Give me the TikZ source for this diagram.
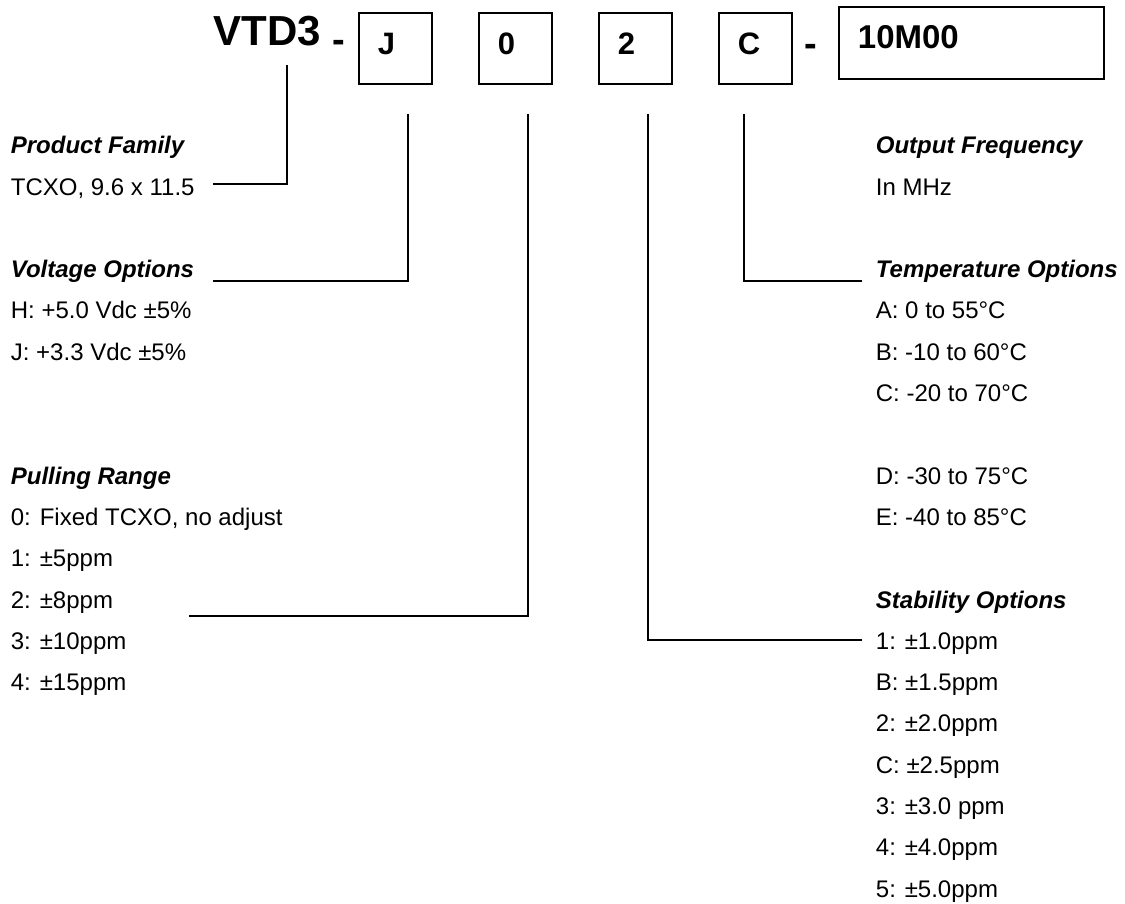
\documentclass[tikz,border=0pt]{standalone}
\usepackage{fontspec}
\setmainfont{Liberation Sans}
\usetikzlibrary{calc}
\newcommand{\bodyfont}{\fontsize{24}{29}\selectfont}
\newcommand{\headfont}{\fontsize{24}{29}\selectfont\bfseries\itshape}
\newcommand{\codefont}{\fontsize{31}{37}\selectfont\bfseries}
\newcommand{\dashfont}{\fontsize{38}{45}\selectfont\bfseries}
\newcommand{\partfont}{\fontsize{42}{50}\selectfont\bfseries}

\begin{document}
\begin{tikzpicture}[x=1pt,y=-1pt,line width=1.8pt,
    txt/.style={anchor=base west,inner sep=0pt,font=\bodyfont},
    head/.style={txt,font=\headfont},
    codebox/.style={draw,anchor=north west,inner xsep=19pt,inner ysep=0pt,
      text height=42pt,text depth=29pt,text width=35pt,align=left,font=\codefont}]
  \useasboundingbox (0,0) rectangle (1125,903);

  %part number boxes
  \node[anchor=base west,inner sep=0pt,font=\partfont] (vtd) at (213,45) {VTD3};
  \node[anchor=base,inner sep=0pt,font=\dashfont] (dashA) at (339,52) {-};
  \foreach \c [count=\i] in {J,0,2,C} {
    \node[codebox] (box\i) at ({358+120*(\i-1)},12) {\c};
  }
  \node[anchor=base,inner sep=0pt,font=\dashfont] (dashB) at (811,56) {-};
  \node[codebox,text width=227pt,text depth=30pt,font=\fontsize{33}{40}\selectfont\bfseries] (freq) at (838,6) {10M00};

  %left column
  \node[head] (famhead) at (10,153.7) {Product Family};
  \node[txt] (fam) at (10,195) {TCXO, 9.6 x 11.5};
  \node[head] (volthead) at (10,277.6) {Voltage Options};
  \node[txt] (voltH) at (10,318.9) {H: +5.0 Vdc ±5\%};
  \node[txt] (voltJ) at (10,360.2) {J: +3.3 Vdc ±5\%};
  \node[head] (pullhead) at (10,484.1) {Pulling Range};
  \foreach \t [count=\i] in {{0: Fixed TCXO, no adjust},1: ±5ppm,2: ±8ppm,3: ±10ppm,4: ±15ppm} {
    \node[txt] (pull\i) at (10,{484.1+41.3*\i}) {\t};
  }

  %right column
  \node[head] (freqhead) at (875,153.7) {Output Frequency};
  \node[txt] (freqtxt) at (875,195) {In MHz};
  \node[head] (temphead) at (875,277.6) {Temperature Options};
  \node[txt] (tempA) at (875,318.9) {A: 0 to 55°C};
  \node[txt] (tempB) at (875,360.2) {B: -10 to 60°C};
  \node[txt] (tempC) at (875,401.5) {C: -20 to 70°C};
  \node[txt] (tempD) at (875,484.1) {D: -30 to 75°C};
  \node[txt] (tempE) at (875,525.4) {E: -40 to 85°C};
  \node[head] (stabhead) at (875,608) {Stability Options};
  \foreach \t [count=\i] in {1: ±1.0ppm,B: ±1.5ppm,2: ±2.0ppm,C: ±2.5ppm,3: ±3.0 ppm,4: ±4.0ppm,5: ±5.0ppm} {
    \node[txt] (stab\i) at (875,{608+41.3*\i}) {\t};
  }

  %leader lines
  \coordinate (famend) at (213,184);
  \coordinate (voltend) at (213,281);
  \coordinate (pullend) at (189,616);
  \coordinate (stabend) at (862,640);
  \coordinate (tempend) at (862,281);
  \draw (vtd.south west) ++(74,19) |- (famend);
  \draw (box1.south) ++(12.5,29) |- (voltend);
  \draw (box2.south) ++(12.5,29) |- (pullend);
  \draw (box3.south) ++(12.5,29) |- (stabend);
  \draw (box4.south) ++(-11.5,29) |- (tempend);
\end{tikzpicture}
\end{document}
